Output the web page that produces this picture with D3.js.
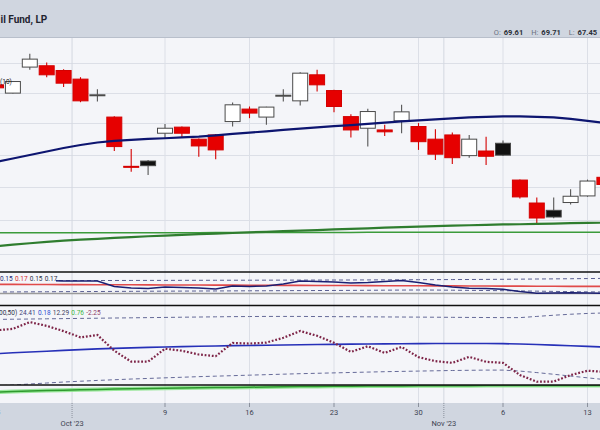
<!DOCTYPE html>
<html>
<head>
<meta charset="utf-8">
<script src="https://cdn.jsdelivr.net/npm/d3@7/dist/d3.min.js"></script>
<style>
html,body{margin:0;padding:0;background:#f4f5f9;}
svg{display:block;font-family:Roboto,"Noto Sans",sans-serif;}
</style>
</head>
<body>
<svg id="chart" width="600" height="430"></svg>
<script>
// ---------------- DATA ----------------
const dates = ["2023-09-25","2023-09-26","2023-09-27","2023-09-28","2023-09-29","2023-10-02","2023-10-03","2023-10-04","2023-10-05","2023-10-06","2023-10-09","2023-10-10","2023-10-11","2023-10-12","2023-10-13","2023-10-16","2023-10-17","2023-10-18","2023-10-19","2023-10-20","2023-10-23","2023-10-24","2023-10-25","2023-10-26","2023-10-27","2023-10-30","2023-10-31","2023-11-01","2023-11-02","2023-11-03","2023-11-06","2023-11-07","2023-11-08","2023-11-09","2023-11-10","2023-11-13","2023-11-14"];
const opens  = [80.52,79.97,81.71,81.80,81.48,80.90,79.82,78.40,75.27,75.60,77.36,77.75,76.98,77.25,78.11,78.92,78.40,79.79,79.46,81.19,80.14,78.43,77.68,77.57,78.16,77.79,76.98,77.25,75.94,76.23,76.72,74.42,73.02,72.58,73.05,73.45,74.59];
const highs  = [80.62,80.78,82.61,82.02,81.57,81.03,80.23,78.45,76.36,75.67,77.96,77.79,77.02,77.31,79.35,79.09,79.08,80.23,81.37,81.53,80.20,78.59,78.94,77.90,79.20,78.01,77.62,77.40,77.25,77.14,76.89,74.45,73.35,73.35,73.85,74.45,74.80];
const lows   = [80.22,79.95,81.53,81.03,80.37,79.37,79.41,76.23,74.94,74.73,77.06,77.06,75.87,75.71,77.79,78.33,77.90,79.41,79.15,80.07,78.72,77.08,76.51,77.19,77.36,76.30,75.67,75.42,75.81,75.35,75.92,73.29,71.79,72.10,72.93,73.40,74.05];
const closes = [80.32,80.74,82.25,81.19,80.63,79.46,79.86,76.51,75.23,75.31,77.68,77.36,76.55,76.30,79.20,78.66,79.05,79.83,81.30,80.52,79.09,77.57,78.76,77.45,78.74,76.82,76.03,75.81,76.98,75.90,75.97,73.39,72.12,72.18,73.43,74.36,74.15];
const prevClose = 80.95;

const maNavy = [75.54,75.76,75.98,76.20,76.42,76.61,76.77,76.87,76.93,77.00,77.04,77.09,77.14,77.22,77.32,77.40,77.48,77.57,77.65,77.73,77.81,77.88,77.96,78.04,78.12,78.19,78.25,78.31,78.38,78.41,78.44,78.44,78.41,78.38,78.28,78.16,78.02];
const maDarkGreen = [70.46,70.55,70.63,70.71,70.78,70.84,70.89,70.94,70.99,71.04,71.08,71.12,71.16,71.20,71.23,71.27,71.30,71.34,71.37,71.40,71.44,71.48,71.51,71.55,71.58,71.61,71.64,71.67,71.69,71.71,71.74,71.75,71.77,71.79,71.81,71.83,71.84];
const maFlatGreen = [71.24,71.24,71.24,71.24,71.24,71.25,71.25,71.25,71.25,71.25,71.25,71.25,71.25,71.26,71.26,71.26,71.26,71.26,71.26,71.26,71.26,71.26,71.27,71.27,71.27,71.27,71.27,71.27,71.27,71.27,71.27,71.28,71.28,71.28,71.28,71.28,71.28];

const p1Navy  = [0.1857,0.1857,0.1871,0.1871,0.1857,0.1857,0.1857,0.1700,0.1657,0.1643,0.1686,0.1671,0.1657,0.1629,0.1714,0.1700,0.1714,0.1771,0.1857,0.1843,0.1829,0.1800,0.1814,0.1843,0.1871,0.1814,0.1743,0.1686,0.1649,0.1643,0.1620,0.1557,0.1506,0.1514,0.1523,0.1514,0.1506];
const p1Red   = [0.1760,0.1760,0.1758,0.1756,0.1755,0.1753,0.1752,0.1750,0.1748,0.1747,0.1745,0.1743,0.1742,0.1740,0.1738,0.1737,0.1735,0.1733,0.1732,0.1730,0.1728,0.1727,0.1725,0.1723,0.1722,0.1720,0.1718,0.1717,0.1715,0.1713,0.1712,0.1710,0.1708,0.1707,0.1705,0.1703,0.1702];
const p1Upper = [0.1866,0.1866,0.1867,0.1868,0.1869,0.1870,0.1871,0.1872,0.1873,0.1874,0.1875,0.1876,0.1877,0.1878,0.1879,0.1880,0.1881,0.1882,0.1883,0.1884,0.1885,0.1886,0.1888,0.1890,0.1892,0.1894,0.1896,0.1898,0.1900,0.1903,0.1906,0.1910,0.1914,0.1918,0.1922,0.1927,0.1932];
const p1Lower = [0.1543,0.1545,0.1548,0.1550,0.1553,0.1555,0.1557,0.1560,0.1562,0.1565,0.1567,0.1569,0.1571,0.1573,0.1575,0.1577,0.1579,0.1581,0.1583,0.1585,0.1587,0.1589,0.1592,0.1595,0.1598,0.1600,0.1598,0.1594,0.1590,0.1585,0.1580,0.1574,0.1567,0.1560,0.1553,0.1547,0.1543];
const p1Ref = 0.15;

const p2Dotted = [24.38,25.31,29.56,27.19,23.88,20.00,21.44,11.56,4.69,4.69,12.81,11.56,9.19,8.13,16.44,16.06,16.69,19.69,23.94,20.94,16.56,10.81,14.38,10.19,13.94,7.50,5.00,3.94,7.69,4.56,3.94,-3.75,-7.94,-7.81,-3.75,-1.06,-1.69];
const p2Blue   = [9.63,10.25,10.75,11.25,11.75,12.25,12.69,13.06,13.38,13.69,13.88,14.13,14.38,14.56,14.75,14.88,15.00,15.19,15.31,15.44,15.56,15.69,15.75,15.88,15.94,16.00,16.06,16.06,16.06,16.06,16.00,15.75,15.44,15.06,14.69,14.31,13.88];
const p2Upper  = [31.25,31.38,31.50,31.63,31.75,31.88,32.00,32.13,32.25,32.38,32.50,32.63,32.75,32.88,33.00,33.06,33.13,33.13,33.13,33.06,33.00,32.94,32.88,32.81,32.75,32.69,32.63,32.56,32.50,32.44,32.38,32.38,33.13,33.88,34.50,35.00,35.31];
const p2Lower  = [-10.63,-10.00,-9.38,-8.75,-8.13,-7.63,-7.13,-6.69,-6.25,-5.88,-5.50,-5.13,-4.75,-4.44,-4.13,-3.81,-3.50,-3.19,-2.88,-2.63,-2.38,-2.13,-1.88,-1.63,-1.44,-1.25,-1.06,-0.88,-0.75,-0.63,-0.63,-1.25,-2.19,-3.25,-4.38,-5.50,-6.56];

const p3Green = [6.11,6.39,6.67,6.89,7.11,7.33,7.56,7.72,7.89,8.06,8.17,8.33,8.44,8.56,8.67,8.78,8.89,9.00,9.11,9.17,9.28,9.33,9.39,9.44,9.50,9.56,9.56,9.61,9.61,9.67,9.67,9.72,9.72,9.72,9.78,9.78,9.78];

const gridPrices = [70,72,74,76,78,80,82];
const weekTickDates  = ["2023-09-25","2023-10-09","2023-10-16","2023-10-23","2023-10-30","2023-11-06","2023-11-13"];
const weekTickLabels = ["25","9","16","23","30","6","13"];
const monthStartDates = ["2023-10-02","2023-11-01"];
const monthLabels = ["Oct '23","Nov '23"];

const titleText = "il Fund, LP";
const ohlcLabels = ["O:","H:","L:"];
const ohlcValues = ["69.61","69.71","67.45"];
const maLegend = "(10)";
const p1LegendTexts = ["0.15","0.17","0.15","0.17"];
const p2LegendTexts = ["00,50)","24.41","0.18","12.29","0.76","-2.25"];

// ---------------- LAYOUT ----------------
const W = 600, H = 430;
const BG = "#f4f5f9", BAND = "#d0d6e0", GRID = "#dcdfe7";
const MAIN = {top: 38, bottom: 272}, P1 = {top: 272, bottom: 305.5}, P2 = {top: 305.5, bottom: 385}, P3 = {top: 385, bottom: 403};

const svg = d3.select("#chart");
svg.append("rect").attr("width", W).attr("height", H).attr("fill", BG);
svg.append("rect").attr("width", W).attr("height", MAIN.top).attr("fill", BAND);
svg.append("line").attr("x1",0).attr("x2",W).attr("y1",MAIN.top-0.5).attr("y2",MAIN.top-0.5).attr("stroke","#b8bfcb");
svg.append("rect").attr("y", P3.bottom).attr("width", W).attr("height", H - P3.bottom).attr("fill", BAND);

const x = d3.scaleBand().domain(dates).range([-12.45, 612.85]);
const cx = d => x(d) + x.bandwidth() / 2;
const y = d3.scaleLog().domain([68.97, 83.7]).range([MAIN.bottom, MAIN.top]);
const y1 = d3.scaleLinear().domain([0.12, 0.21]).range([304, 272.5]);
const y2 = d3.scaleLinear().domain([-10, 40]).range([P2.bottom, P2.top]);
const y3 = d3.scaleLinear().domain([0, 10]).range([P3.bottom, P3.top]);

const defs = svg.append("defs");
function clip(id, p){
  defs.append("clipPath").attr("id", id).append("rect").attr("x",0).attr("y",p.top).attr("width",W).attr("height",p.bottom-p.top);
  return "url(#"+id+")";
}
const cMain = clip("cm", MAIN), c1 = clip("c1", P1), c2 = clip("c2", P2), c3 = clip("c3", P3);

// grid
const grid = svg.append("g");
grid.selectAll(".hg").data(gridPrices).join("line")
  .attr("x1",0).attr("x2",W).attr("y1",d=>Math.round(y(d))+0.5).attr("y2",d=>Math.round(y(d))+0.5)
  .attr("stroke",GRID).attr("stroke-width",1);
grid.selectAll(".vg").data(weekTickDates).join("line")
  .attr("x1",d=>cx(d)).attr("x2",d=>cx(d)).attr("y1",MAIN.top).attr("y2",P3.bottom)
  .attr("stroke",GRID).attr("stroke-width",1);
grid.selectAll(".mg").data(monthStartDates).join("line")
  .attr("x1",d=>x(d)).attr("x2",d=>x(d)).attr("y1",MAIN.top).attr("y2",P3.bottom)
  .attr("stroke","#d3d7e0").attr("stroke-width",1);

const lineGen = (arr, sc) => d3.line().x((d,i)=>cx(dates[i])).y(d=>sc(d))(arr);

// main panel
const gMain = svg.append("g").attr("clip-path", cMain);
const candles = gMain.append("g");
dates.forEach((d,i)=>{
  const o = opens[i], c = closes[i];
  const pc = i ? closes[i-1] : prevClose;
  const up = c >= pc;
  const hollow = c > o;
  const stroke = up ? "#4a4a4a" : "#d40000";
  const fill = hollow ? "#ffffff" : (up ? "#111111" : "#e60000");
  const xc = cx(d);
  candles.append("line").attr("x1",xc).attr("x2",xc).attr("y1",y(highs[i])).attr("y2",y(lows[i]))
    .attr("stroke", up ? "#555" : "#d40000").attr("stroke-width",1.1);
  const top = y(Math.max(o,c)), bot = y(Math.min(o,c));
  candles.append("rect").attr("x",xc-7.5).attr("width",15)
    .attr("y",top).attr("height",Math.max(1,bot-top))
    .attr("fill",fill).attr("stroke",stroke).attr("stroke-width",1);
});
gMain.append("path").attr("d",lineGen(maFlatGreen,y)).attr("fill","none").attr("stroke","#3b9b3b").attr("stroke-width",1.5);
gMain.append("path").attr("d",lineGen(maDarkGreen,y)).attr("fill","none").attr("stroke","#2f7d2f").attr("stroke-width",2.2);
gMain.append("path").attr("d",lineGen(maNavy,y)).attr("fill","none").attr("stroke","#0d1570").attr("stroke-width",2.2);
svg.append("text").attr("x",0).attr("y",84).attr("font-size",6.5).attr("fill","#222").text(maLegend);

// panel 1
const g1 = svg.append("g").attr("clip-path", c1);
g1.append("line").attr("x1",0).attr("x2",W).attr("y1",y1(p1Ref)).attr("y2",y1(p1Ref)).attr("stroke","#9a9a9a").attr("stroke-width",1.3);
[p1Upper,p1Lower].forEach(a=>g1.append("path").attr("d",lineGen(a,y1)).attr("fill","none").attr("stroke","#5a5f92").attr("stroke-width",1).attr("stroke-dasharray","4,3"));
g1.append("path").attr("d",lineGen(p1Red,y1)).attr("fill","none").attr("stroke","#e04a4a").attr("stroke-width",1.6);
g1.append("path").attr("d",lineGen(p1Navy,y1)).attr("fill","none").attr("stroke","#1b1f72").attr("stroke-width",1.5);
g1.append("rect").attr("x",0).attr("y",273.5).attr("width",56).attr("height",9).attr("fill",BG);
const t1 = svg.append("text").attr("x",0).attr("y",281.3).attr("font-size",6.5);
const p1Colors = ["#1b1f72","#d42a2a","#2b2f45","#2b2f45"];
p1LegendTexts.forEach((t,i)=>t1.append("tspan").attr("dx", i?2.2:0).attr("fill",p1Colors[i]).text(t));

// panel 2
const g2 = svg.append("g").attr("clip-path", c2);
[p2Upper,p2Lower].forEach(a=>g2.append("path").attr("d",lineGen(a,y2)).attr("fill","none").attr("stroke","#656a98").attr("stroke-width",1).attr("stroke-dasharray","4,3"));
g2.append("path").attr("d",lineGen(p2Blue,y2)).attr("fill","none").attr("stroke","#2630b8").attr("stroke-width",1.6);
g2.append("path").attr("d",lineGen(p2Dotted,y2)).attr("fill","none").attr("stroke","#7d2447").attr("stroke-width",2.2).attr("stroke-dasharray","1.8,1.8");
const t2 = svg.append("text").attr("x",-1).attr("y",315).attr("font-size",6.5);
const p2Colors = ["#2b2f45","#3b3f7a","#2a4bd0","#3d4060","#3fb53f","#8a3a6a"];
p2LegendTexts.forEach((t,i)=>t2.append("tspan").attr("dx", i?2.2:0).attr("fill",p2Colors[i]).text(t));

// panel 3
const g3 = svg.append("g").attr("clip-path", c3);
g3.append("path").attr("d",lineGen(p3Green,y3)).attr("fill","none").attr("stroke","#8fe68f").attr("stroke-width",4).attr("opacity",0.9);
g3.append("path").attr("d",lineGen(p3Green,y3)).attr("fill","none").attr("stroke","#2e9a2e").attr("stroke-width",1.5);

// panel borders
[MAIN.bottom, P1.bottom, P2.bottom].forEach(v=>svg.append("line").attr("x1",0).attr("x2",W).attr("y1",v).attr("y2",v).attr("stroke","#111").attr("stroke-width",1.6));

// header texts
svg.append("text").attr("x",0.5).attr("y",22.5).attr("font-size",10).attr("font-weight","bold").attr("fill","#1f2430").text(titleText);
const ohlc = svg.append("text").attr("x",597).attr("y",35.3).attr("text-anchor","end").attr("font-size",7.5);
ohlcLabels.forEach((lab,i)=>{
  ohlc.append("tspan").attr("dx", i?8:0).attr("fill","#6b7280").text(lab);
  ohlc.append("tspan").attr("dx",3).attr("fill","#2b2f38").attr("font-weight","bold").text(ohlcValues[i]);
});

// x axis
const axis = d3.axisBottom(x).tickValues(weekTickDates).tickFormat((d,i)=>weekTickLabels[i]).tickSize(4).tickPadding(3);
const gAxis = svg.append("g").attr("transform",`translate(0,${P3.bottom})`).call(axis);
gAxis.select(".domain").remove();
gAxis.selectAll("line").attr("stroke","#8a909c");
gAxis.selectAll("text").attr("font-size",7.5).attr("fill","#3d4350").attr("font-family","Roboto, 'Noto Sans', sans-serif");
const gMonth = svg.append("g");
gMonth.selectAll("line").data(monthStartDates).join("line")
  .attr("x1",d=>x(d)).attr("x2",d=>x(d)).attr("y1",P3.bottom).attr("y2",418)
  .attr("stroke","#8a909c").attr("stroke-dasharray","1,1");
gMonth.selectAll("text").data(monthStartDates).join("text")
  .attr("x",d=>x(d)).attr("y",425.5).attr("text-anchor","middle").attr("font-size",7.5).attr("fill","#3d4350")
  .text((d,i)=>monthLabels[i]);
</script>
</body>
</html>
